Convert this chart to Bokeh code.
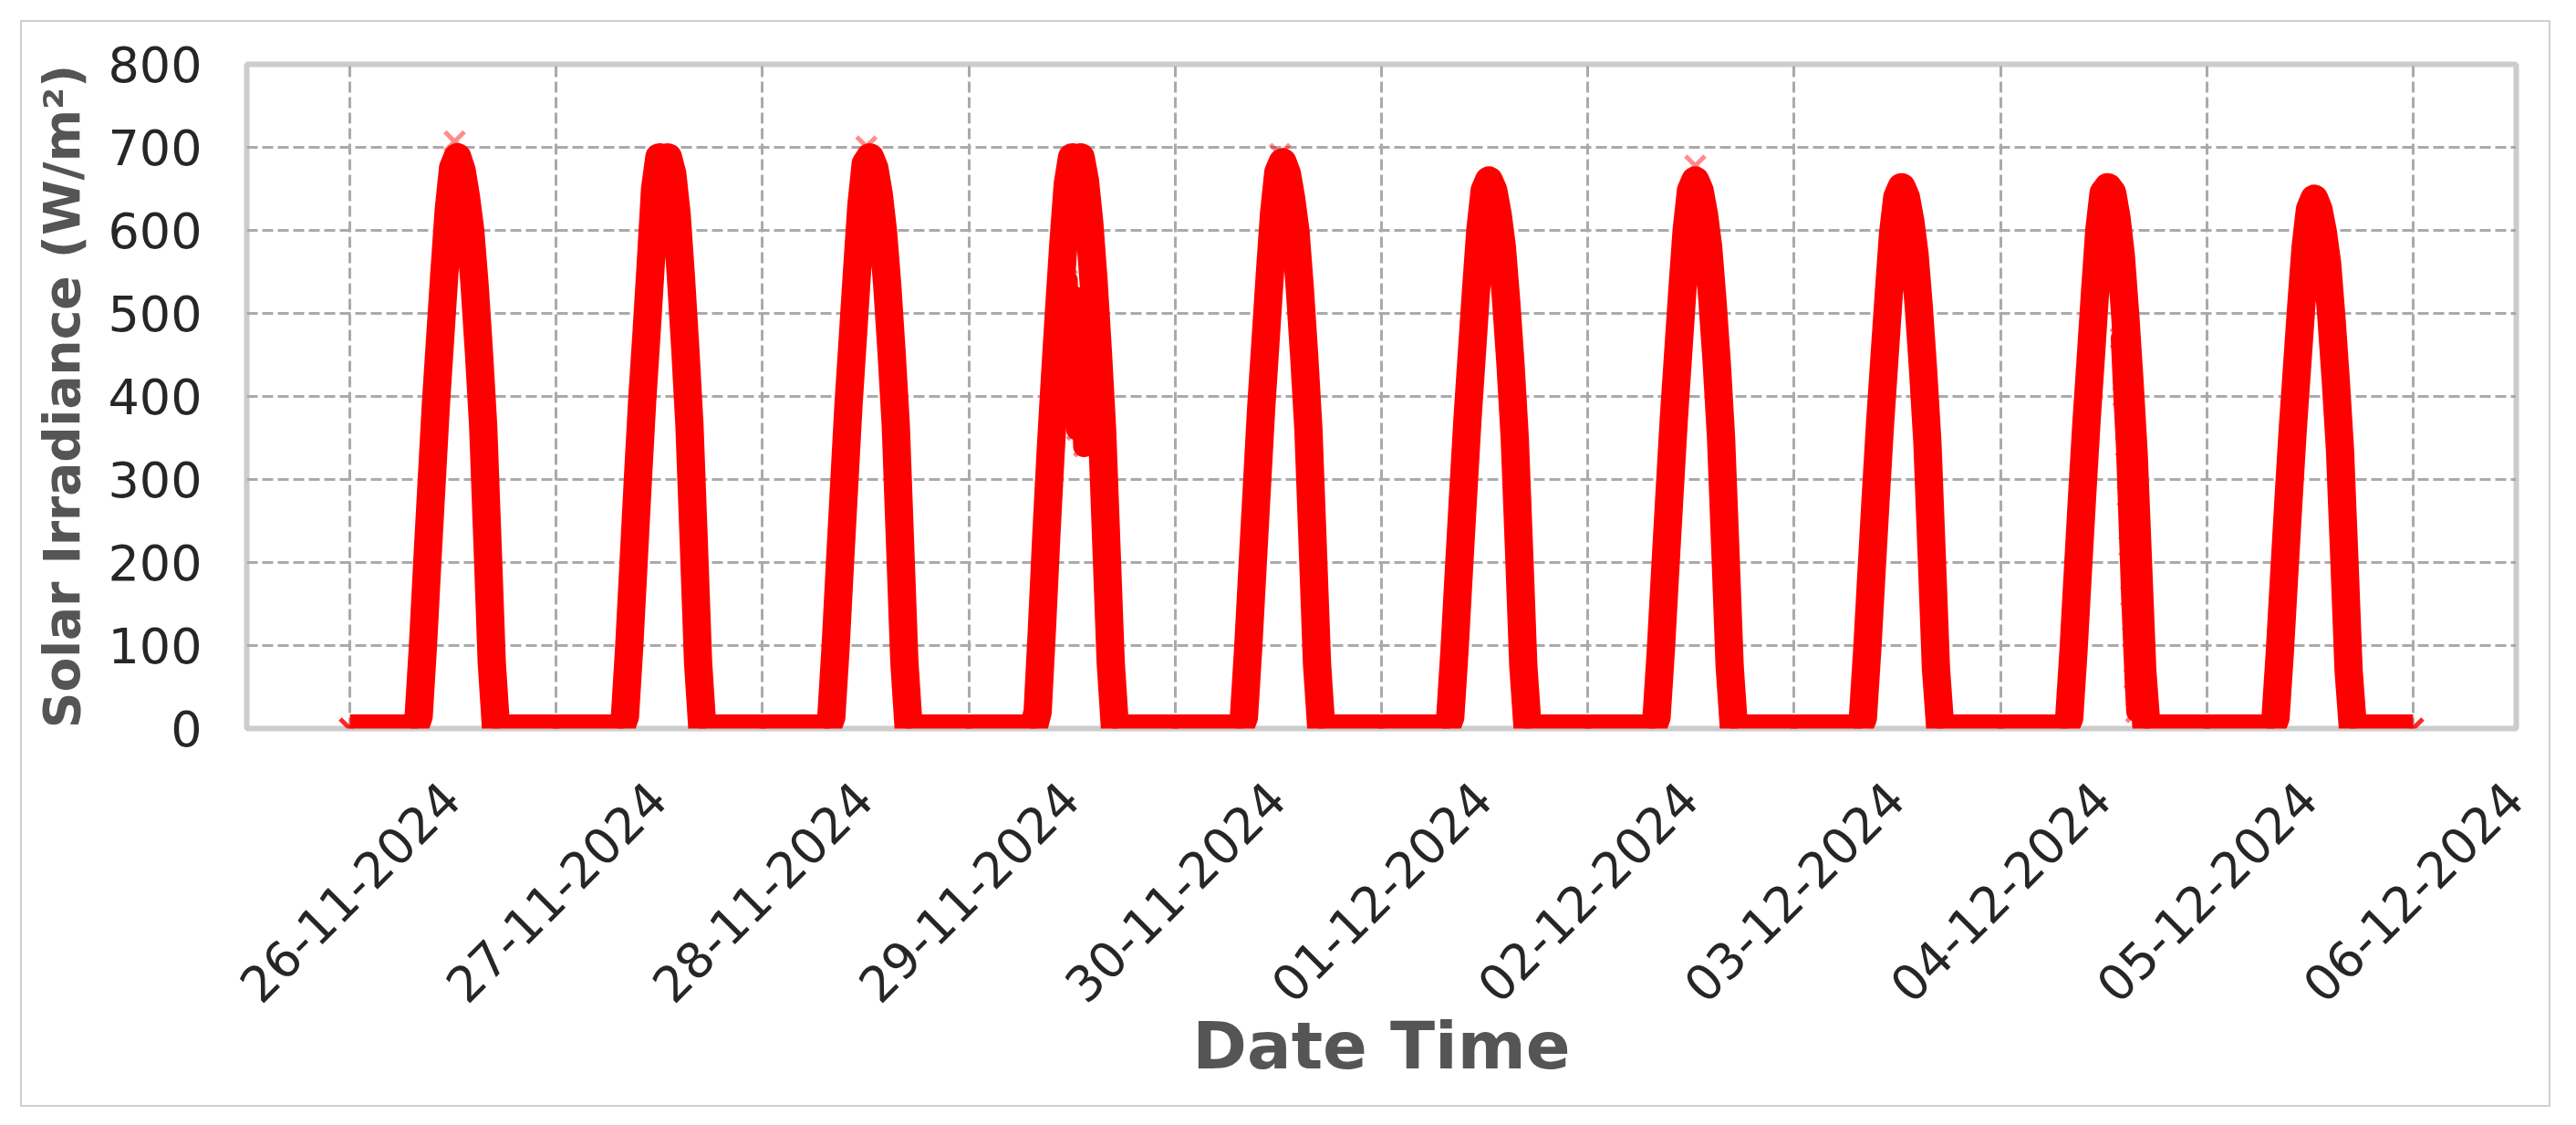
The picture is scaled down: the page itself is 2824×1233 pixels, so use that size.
import pandas as pd
from bokeh.plotting import figure
from bokeh.models import Range1d, FixedTicker
from bokeh.embed import file_html
from bokeh.resources import INLINE

# ---------------- data ----------------
DAYS = ["2024-11-26", "2024-11-27", "2024-11-28", "2024-11-29", "2024-11-30",
        "2024-12-01", "2024-12-02", "2024-12-03", "2024-12-04", "2024-12-05"]
HOURS = [7.5, 8.0, 8.5, 9.0, 9.5, 10.0, 10.5, 11.0, 11.5, 12.0,
         12.5, 13.0, 13.5, 14.0, 14.5, 15.0, 15.5, 16.0, 16.5, 17.0]

irr_26_11 = [0, 15, 100, 200, 295, 390, 470, 550, 625, 675, 688, 672, 640, 600, 535, 455, 365, 225, 80, 0]
irr_27_11 = [0, 15, 100, 200, 300, 395, 475, 560, 650, 688, 680, 688, 668, 620, 545, 460, 365, 225, 80, 0]
irr_28_11 = [0, 14, 98, 198, 294, 390, 470, 552, 630, 680, 688, 675, 645, 600, 535, 455, 365, 222, 80, 0]
irr_29_11 = [0, 20, 120, 230, 330, 420, 505, 585, 655, 688, 682, 688, 660, 610, 540, 455, 360, 220, 80, 0]
irr_30_11 = [0, 14, 98, 195, 290, 385, 465, 545, 620, 670, 682, 668, 638, 598, 530, 450, 360, 220, 78, 0]
irr_01_12 = [0, 14, 95, 190, 282, 372, 450, 528, 600, 648, 660, 648, 620, 580, 515, 440, 350, 215, 75, 0]
irr_02_12 = [0, 14, 95, 190, 282, 372, 450, 528, 600, 648, 660, 648, 620, 580, 515, 440, 350, 215, 75, 0]
irr_03_12 = [0, 13, 94, 188, 280, 368, 445, 522, 595, 640, 652, 640, 612, 572, 508, 432, 345, 210, 72, 0]
irr_04_12 = [0, 13, 94, 188, 280, 368, 445, 525, 600, 645, 652, 645, 615, 570, 500, 420, 330, 200, 70, 0]
irr_05_12 = [0, 13, 92, 184, 274, 360, 435, 510, 580, 625, 638, 625, 598, 560, 495, 420, 335, 205, 70, 0]
DAY_VALUES = [irr_26_11, irr_27_11, irr_28_11, irr_29_11, irr_30_11,
              irr_01_12, irr_02_12, irr_03_12, irr_04_12, irr_05_12]
END_TIME = "2024-12-06 00:00"

# scattered (cloud) readings
cloud_29_11_hours = [10.6, 11.0, 11.4, 11.8, 12.2, 12.6, 13.0, 13.4, 13.7]
cloud_29_11_vals = [560, 420, 540, 380, 520, 360, 500, 340, 460]
cloud_04_12_hours = [14.0, 14.3, 14.6, 14.8, 15.0, 15.2, 15.4, 15.6, 15.8]
cloud_04_12_vals = [470, 400, 340, 280, 220, 160, 110, 60, 20]

# single readings above the daily peaks
peak_times = ["2024-11-26 12:11", "2024-11-28 12:05", "2024-11-30 12:12", "2024-12-02 12:30"]
peak_vals = [707, 701, 692, 678]

TICK_DATES = ["2024-11-26", "2024-11-27", "2024-11-28", "2024-11-29", "2024-11-30",
              "2024-12-01", "2024-12-02", "2024-12-03", "2024-12-04", "2024-12-05",
              "2024-12-06"]
TICK_LABELS = ["26-11-2024", "27-11-2024", "28-11-2024", "29-11-2024", "30-11-2024",
               "01-12-2024", "02-12-2024", "03-12-2024", "04-12-2024", "05-12-2024",
               "06-12-2024"]
Y_TICKS = [0, 100, 200, 300, 400, 500, 600, 700, 800]

# ---------------- build series ----------------
times, vals = [], []
for day, dv in zip(DAYS, DAY_VALUES):
    d0 = pd.Timestamp(day)
    times.append(d0)
    vals.append(0)
    for h, v in zip(HOURS, dv):
        times.append(d0 + pd.Timedelta(hours=h))
        vals.append(v)
times.append(pd.Timestamp(END_TIME))
vals.append(0)


def day_series(day, hours, values):
    d0 = pd.Timestamp(day)
    return [d0 + pd.Timedelta(hours=h) for h in hours], list(values)


c1t, c1v = day_series("2024-11-29", cloud_29_11_hours, cloud_29_11_vals)
c2t, c2v = day_series("2024-12-04", cloud_04_12_hours, cloud_04_12_vals)
pk_t = [pd.Timestamp(t) for t in peak_times]

# ---------------- figure ----------------
FONT = "DejaVu Sans"
p = figure(width=2774, height=1191, x_axis_type="datetime",
           output_backend="svg", toolbar_location=None,
           x_range=Range1d(pd.Timestamp("2024-11-25 12:00"), pd.Timestamp("2024-12-06 12:00")),
           y_range=Range1d(0, 800),
           min_border_left=246, min_border_right=40, min_border_top=46, min_border_bottom=417)
p.margin = (22, 0, 0, 22)
p.styles = {"border": "2px solid #cfcfcf"}
p.background_fill_color = "white"
p.border_fill_color = "white"
p.outline_line_color = "#cccccc"
p.outline_line_width = 6

red = "#ff0000"
p.line(times, vals, line_color=red, line_width=31, line_join="round", line_cap="butt")
p.line(c1t, c1v, line_color=red, line_width=24, line_join="round", line_cap="round")
p.line(c2t, c2v, line_color=red, line_width=22, line_join="round", line_cap="round")
p.scatter(times, vals, marker="x", size=30, line_color=red, line_width=5, line_alpha=0.85)
p.scatter(c1t, c1v, marker="x", size=30, line_color=red, line_width=5, line_alpha=0.5)
p.scatter(c2t, c2v, marker="x", size=30, line_color=red, line_width=5, line_alpha=0.5)
p.scatter(pk_t, peak_vals, marker="x", size=30, line_color=red, line_width=5, line_alpha=0.45)

# x axis: grid at midnight, labels rotated and centred on the grid lines
tick_ms = [pd.Timestamp(t).value // 10**6 for t in TICK_DATES]
LABEL_SHIFT_MS = int(11.77 * 3600 * 1000)   # right end of a 45° label sits this far right of its tick
label_ms = [t + LABEL_SHIFT_MS for t in tick_ms]
p.xgrid.ticker = FixedTicker(ticks=tick_ms)
p.xaxis.ticker = FixedTicker(ticks=label_ms)
p.xaxis.major_label_overrides = {t: lab for t, lab in zip(label_ms, TICK_LABELS)}
p.xaxis.major_label_orientation = 0.7853981634
p.xaxis.major_label_text_font = FONT
p.xaxis.major_label_text_font_size = "54px"
p.xaxis.major_label_text_color = "#262626"
p.xaxis.major_label_standoff = 62
p.xaxis.axis_label = "Date Time"
p.xaxis.axis_label_text_font = FONT
p.xaxis.axis_label_text_font_size = "72px"
p.xaxis.axis_label_text_font_style = "bold"
p.xaxis.axis_label_text_color = "#555555"
p.xaxis.axis_label_standoff = -15
p.xaxis.axis_line_color = None
p.xaxis.major_tick_line_color = None
p.xaxis.minor_tick_line_color = None

p.yaxis.ticker = FixedTicker(ticks=Y_TICKS)
p.yaxis.major_label_text_font = FONT
p.yaxis.major_label_text_font_size = "54px"
p.yaxis.major_label_text_color = "#262626"
p.yaxis.major_label_standoff = 43
p.yaxis.axis_label = "Solar Irradiance (W/m²)"
p.yaxis.axis_label_text_font = FONT
p.yaxis.axis_label_text_font_size = "55px"
p.yaxis.axis_label_text_font_style = "bold"
p.yaxis.axis_label_text_color = "#555555"
p.yaxis.axis_label_standoff = 15
p.yaxis.axis_line_color = None
p.yaxis.major_tick_line_color = None
p.yaxis.minor_tick_line_color = None

for g in (p.xgrid, p.ygrid):
    g.grid_line_color = "#aaaaaa"
    g.grid_line_width = 3
    g.grid_line_dash = "12 5"

open("out.html", "w").write(file_html(p, INLINE))
